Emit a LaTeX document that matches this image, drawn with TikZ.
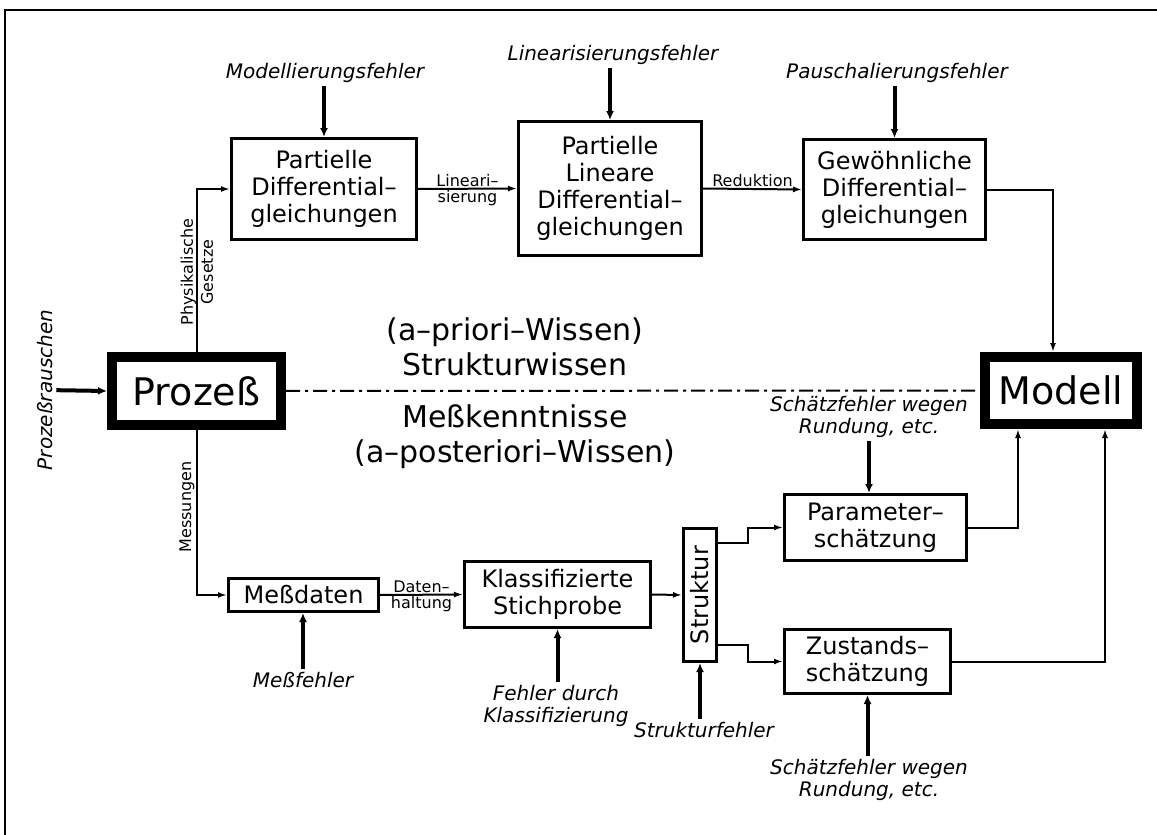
\documentclass[tikz,border=0pt]{standalone}
\usepackage{fontspec}
\setmainfont{DejaVu Sans}
\usepackage{graphicx}
\usetikzlibrary{arrows.meta}

\begin{document}
\begin{tikzpicture}[x=1pt,y=-1pt]
				\tikzstyle{block}=[draw, line width=3pt, inner sep=2pt, align=center, font=\fontsize{24}{27}\selectfont]
				\tikzstyle{heavy}=[draw, line width=10pt, inner sep=0pt, font=\fontsize{38}{42}\selectfont]
				\tikzstyle{fault}=[align=center, font=\fontsize{20}{22}\selectfont\itshape]
				\tikzstyle{tag}=[inner sep=1pt, align=center, font=\fontsize{16}{20}\selectfont]
				\tikzstyle{know}=[align=center, font=\fontsize{30}{35}\selectfont]
				\tikzset{edge/.style = {-{Latex[length=9pt,width=6pt]}, line width=2pt}}
				\tikzset{hit/.style = {-{Latex[length=9pt,width=8pt]}, line width=4pt}}
				
				\useasboundingbox (0,0) rectangle (1157,835);
				\draw[line width=2.5pt] (5,835) -- (5,10) -- (1157,10);
				
				% process and model
				\node[heavy, minimum width=169pt, minimum height=68pt](proc) at (196.5,391) {Prozeß};
				\node[heavy, minimum width=152pt, minimum height=67pt](mod)  at (1061,390.5) {Modell};
				\draw[line width=2pt, dash pattern=on 14pt off 5pt on 3pt off 5pt](proc) -- (mod);
				\node[know](apri)  at (515,347) {(a--priori--Wissen)\\Strukturwissen};
				\node[know](apost) at (515,437) {Meßkenntnisse\\(a--posteriori--Wissen)};
				
				% upper path: theoretical modelling
				\node[block, minimum width=185pt, minimum height=101pt](pde)  at (324,189)   {Partielle\\Differential--\\gleichungen};
				\node[block, minimum width=183pt, minimum height=134pt](plde) at (610,188.5) {Partielle\\Lineare\\Differential--\\gleichungen};
				\node[block, minimum width=182pt, minimum height=100pt](gde)  at (894.5,189.5) {Gewöhnliche\\Differential--\\gleichungen};
				\node[tag, rotate=90](phys) at (197,272) {Physikalische\\Gesetze};
				\draw[edge](proc.north) |- (pde.west);
				\draw[edge](pde.east) -- (plde.west) node[midway, above, tag] {Lineari--} node[midway, below, tag] {sierung};
				\draw[edge](plde.east) -- (gde.west) node[midway, above, tag] {Reduktion};
				\draw[edge](gde.east) -| ([xshift=-8pt]mod.north);
				
				% lower path: measurements
				\node[block, minimum width=150pt, minimum height=33pt](md)  at (303.5,595) {Meßdaten};
				\node[block, minimum width=186pt, minimum height=66pt](ks)  at (557.5,594.5) {Klassifizierte\\Stichprobe};
				\node[block, minimum width=33pt, minimum height=133pt, inner sep=0pt](str) at (700,595) {\rotatebox{90}{Struktur}};
				\node[block, minimum width=182pt, minimum height=66pt](ps)  at (875.5,527.5) {Parameter--\\schätzung};
				\node[block, minimum width=166pt, minimum height=64pt](zs)  at (867.5,661.5) {Zustands--\\schätzung};
				\node[tag, rotate=90](mess) at (187,507) {Messungen};
				\draw[edge](proc.south) |- (md.west);
				\draw[edge](md.east) -- (ks.west) node[midway, above, tag] {Daten--} node[midway, below, tag] {haltung};
				\draw[edge](ks.east) -- (str.west);
				\draw[edge]([yshift=52pt]str.east) -- ++(30,0) |- (ps.west);
				\draw[edge]([yshift=-50pt]str.east) -- ++(30,0) |- (zs.west);
				\draw[edge](ps.east) -| ([xshift=38pt]mod.south west);
				\draw[edge](zs.east) -| ([xshift=-37pt]mod.south east);
				
				% error sources
				\node[fault, rotate=90](pr) at (45,390) {Prozeßrauschen};
				\node[fault](mf)  at (325,73)  {Modellierungsfehler};
				\node[fault](lf)  at (613,55)  {Linearisierungsfehler};
				\node[fault](pf)  at (897,73)  {Pauschalierungsfehler};
				\node[fault](sfo) at (869,417) {Schätzfehler wegen\\Rundung, etc.};
				\node[fault](mfe) at (303,680) {Meßfehler};
				\node[fault](fk)  at (556,706) {Fehler durch\\Klassifizierung};
				\node[fault](sf)  at (704,730) {Strukturfehler};
				\node[fault](sfu) at (869,780) {Schätzfehler wegen\\Rundung, etc.};
				\draw[hit](pr) -- (proc.west);
				\draw[hit](mf.south -| pde.north) -- (pde.north);
				\draw[hit](lf.south -| plde.north) -- (plde.north);
				\draw[hit](pf.south -| gde.north) -- (gde.north);
				\draw[hit](sfo) -- (sfo |- ps.north);
				\draw[hit](mfe) -- (mfe |- md.south);
				\draw[hit](fk.north -| ks.south) -- (ks.south);
				\draw[hit](sf.north -| str.south) -- (str.south);
				\draw[hit](sfu.north -| zs.south) -- (zs.south);
			\end{tikzpicture}
\end{document}
